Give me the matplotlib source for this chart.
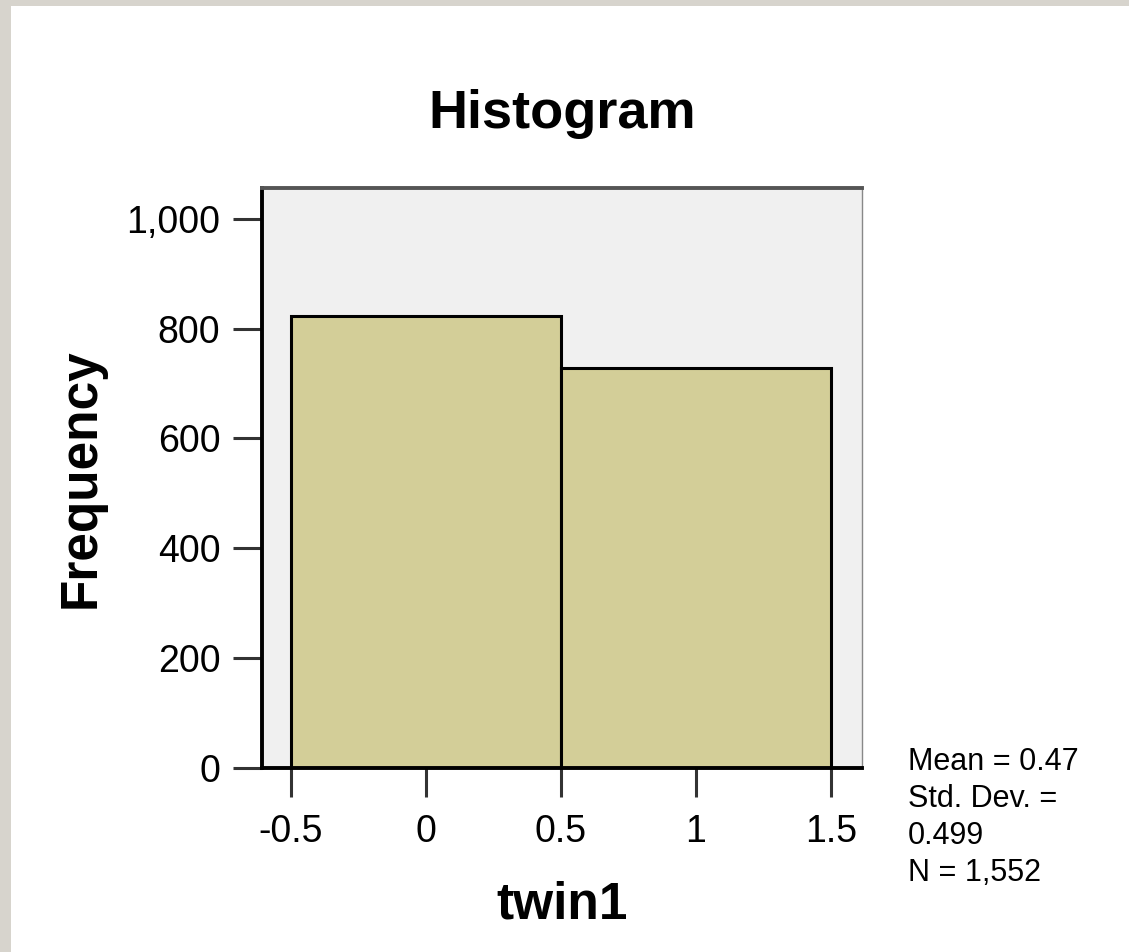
import matplotlib.pyplot as plt
from matplotlib.patches import Rectangle

# histogram of twin1 (two bins)
bin_edges = [-0.5, 0.5, 1.5]
counts = [823, 729]
xticks = [-0.5, 0, 0.5, 1, 1.5]
xtick_labels = ['-0.5', '0', '0.5', '1', '1.5']
yticks = [0, 200, 400, 600, 800, 1000]
ytick_labels = ['0', '200', '400', '600', '800', '1,000']
stats_text = 'Mean = 0.47\nStd. Dev. =\n0.499\nN = 1,552'

plt.rcParams['font.family'] = ['Liberation Sans', 'DejaVu Sans']

fig = plt.figure(figsize=(11.29, 9.52), dpi=100)
fig.patch.set_facecolor('white')

# textured frame of the screenshot (left and top only)
fig.patches.append(Rectangle((0, 0), 11 / 1129, 1, transform=fig.transFigure,
                             facecolor='#d7d4cd', edgecolor='none', zorder=0))
fig.patches.append(Rectangle((0, 1 - 6 / 952), 1, 6 / 952, transform=fig.transFigure,
                             facecolor='#d7d4cd', edgecolor='none', zorder=0))

ax = fig.add_axes([262 / 1129, 1 - 768 / 952, 600 / 1129, 580 / 952])
ax.set_facecolor('#f0f0f0')

widths = [bin_edges[i + 1] - bin_edges[i] for i in range(len(counts))]
ax.bar(bin_edges[:-1], counts, width=widths, align='edge',
       color='#d3ce98', edgecolor='black', linewidth=2.2, zorder=2)

ax.set_xlim(-0.607, 1.615)
ax.set_ylim(0, 1056)

ax.set_xticks(xticks)
ax.set_xticklabels(xtick_labels)
ax.set_yticks(yticks)
ax.set_yticklabels(ytick_labels)
ax.tick_params(axis='both', labelsize=27, length=21, width=2.2, color='#333333')
ax.tick_params(axis='x', pad=12)
ax.tick_params(axis='y', pad=9)

for side in ['left', 'bottom', 'right']:
    ax.spines[side].set_color('black')
    ax.spines[side].set_linewidth(2.8)
ax.spines['top'].set_color('#555555')
ax.spines['top'].set_linewidth(2.8)
ax.spines['right'].set_color('#888888')
ax.spines['right'].set_linewidth(1)

ax.set_title('Histogram', fontsize=39, fontweight='bold', pad=43)
ax.set_xlabel('twin1', fontsize=37, fontweight='bold', labelpad=22)
ax.set_ylabel('Frequency', fontsize=37, fontweight='bold', labelpad=15)

fig.text(908 / 1129, 1 - 747 / 952, stats_text, fontsize=22, va='top', ha='left',
         linespacing=1.3)

fig.savefig('out.png', dpi=100)
